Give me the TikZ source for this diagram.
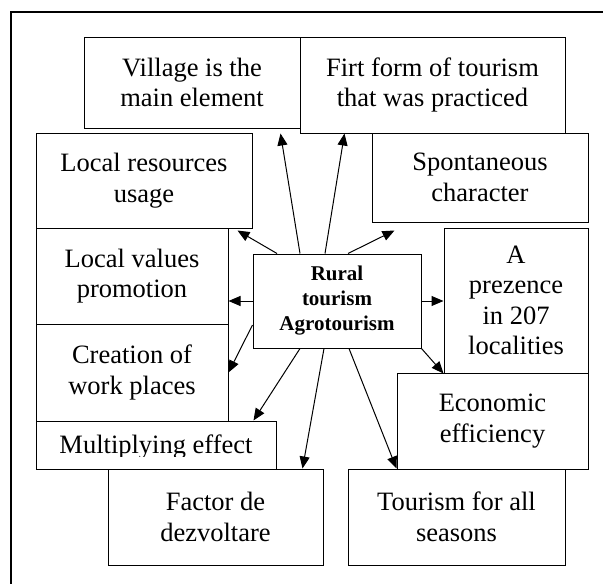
\documentclass[tikz,border=0pt]{standalone}
\usepackage{fontspec}
\setmainfont{Liberation Serif}
\usetikzlibrary{arrows.meta}
\tikzset{
every picture/.style={
line width=1pt
}}

\begin{document}
\begin{tikzpicture}[x=1pt, y=-1pt, >={Triangle[length=12pt,width=10pt]},
block/.style = {rectangle, draw=black, align=center, inner sep=0pt,
  font=\fontsize{26.5}{30.5}\selectfont},
hub/.style = {block, font=\fontsize{21}{25}\selectfont\bfseries}]
\useasboundingbox (0,0) rectangle (603,584);
\draw[line width=1.5pt] (11,584) |- (603,12);

\node[block, minimum width=216, minimum height=91] at (192,82.5) (village) {Village is the\\main element};
\node[block, minimum width=265, minimum height=96] at (432.5,85) (firt) {Firt form of tourism\\that was practiced};
\node[block, minimum width=216, minimum height=95] at (144,180.5) (locres) {Local resources\\usage};
\node[block, minimum width=216, minimum height=89] at (480,177.5) (spont) {Spontaneous\\character};
\node[block, minimum width=192, minimum height=96] at (132,276) (locval) {Local values\\promotion};
\node[hub, minimum width=168, minimum height=94] at (337,301) (rural) {Rural\\tourism\\Agrotourism};
\node[block, minimum width=144, minimum height=145] at (516,300.5) (prez) {A\\prezence\\in 207\\localities};
\node[block, minimum width=192, minimum height=97] at (132,372.5) (work) {Creation of\\work places};
\node[block, minimum width=240, minimum height=48] at (156,445) (mult) {};
\begin{scope}
  \clip (36,421) rectangle (276,456);
  \node[block, draw=none] at (156,447) (multtext) {Multiplying effect};
\end{scope}
\node[block, minimum width=191, minimum height=96] at (492.5,421) (econ) {Economic\\efficiency};
\node[block, minimum width=215, minimum height=96] at (215.5,517) (factor) {Factor de\\dezvoltare};
\node[block, minimum width=217, minimum height=96] at (456.5,517) (seasons) {Tourism for all\\seasons};

\draw[->] ([xshift=-60pt]rural.north) -- ([xshift=-15pt, yshift=-2pt]locres.south east);
\draw[->] ([xshift=-37pt]rural.north) -- ([xshift=-20pt, yshift=-5pt]village.south east);
\draw[->] ([xshift=-12pt]rural.north) -- ([xshift=45pt]firt.south west);
\draw[->] ([xshift=11pt]rural.north) -- ([xshift=23pt, yshift=-8pt]spont.south west);
\draw[->] (rural.west) -- (rural.west -| locval.east);
\draw[->] (rural.east) -- (rural.east -| prez.west);
\draw[->] ([yshift=-24pt]rural.west) -- (work.east);
\draw[->] (rural.south east) -- (prez.south west);
\draw[->] ([xshift=-37pt]rural.south) -- ([xshift=-23pt]mult.north east);
\draw[->] ([xshift=-13pt]rural.south) -- ([xshift=-21pt]factor.north east);
\draw[->] ([xshift=12pt]rural.south) -- ([xshift=49pt]seasons.north west);
\end{tikzpicture}
\end{document}
